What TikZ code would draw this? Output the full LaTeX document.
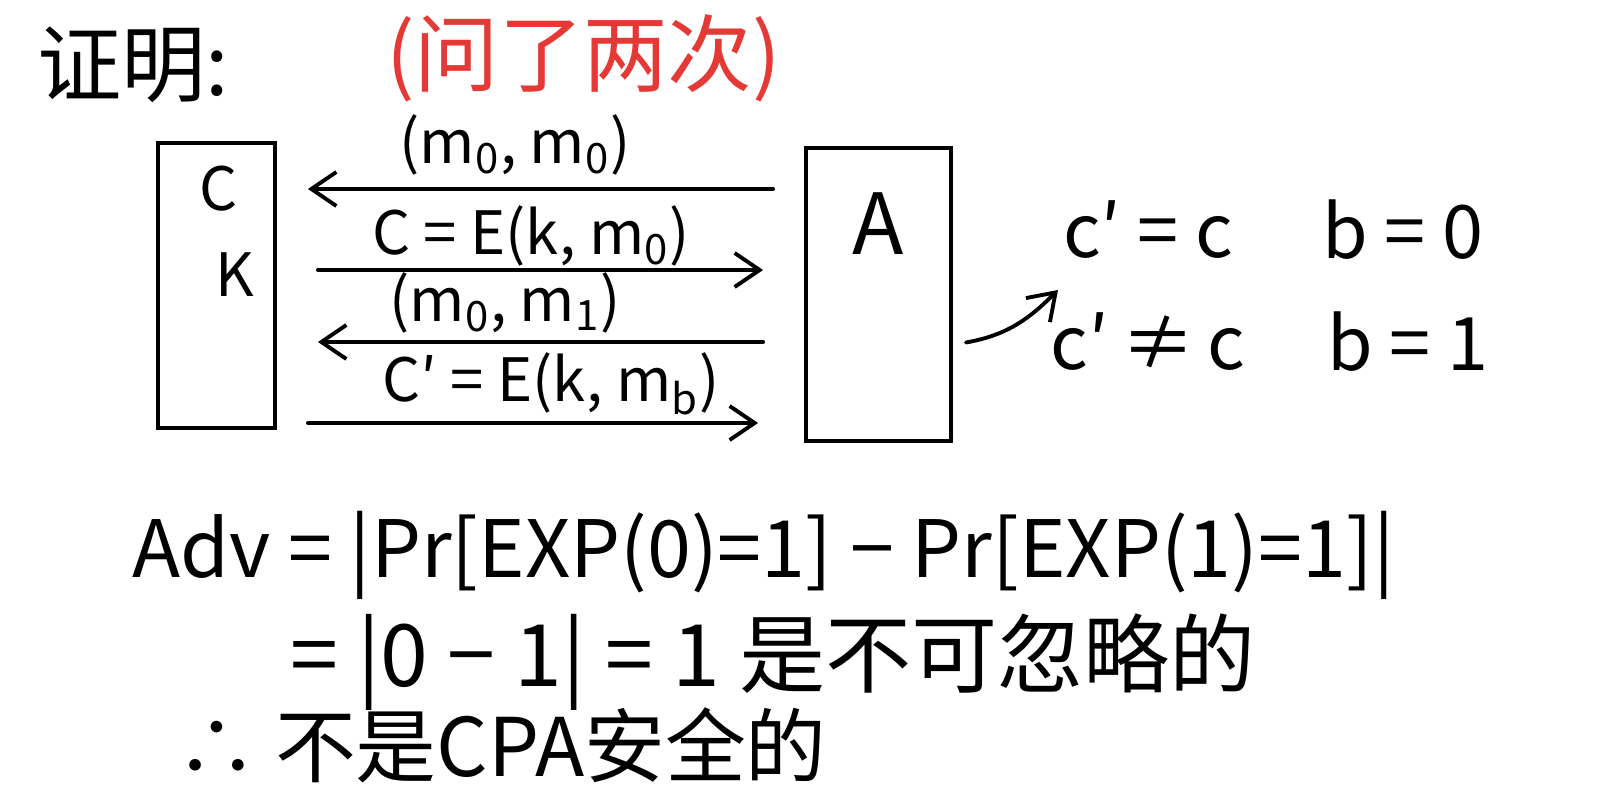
\documentclass[tikz,border=0pt]{standalone}
\usepackage{fontspec}
\setmainfont{Noto Sans CJK SC}
\usetikzlibrary{arrows.meta}
\definecolor{redpen}{RGB}{229,57,53}

\begin{document}
\begin{tikzpicture}[x=1cm,y=1cm,
    box/.style={draw,line width=1.1pt,inner sep=0pt},
    hand/.style={inner sep=1pt,font=\fontsize{17}{20}\selectfont},
    big/.style={inner sep=1pt,font=\fontsize{21}{25}\selectfont},
    huge/.style={inner sep=1pt,font=\fontsize{24}{28}\selectfont},
    arr/.style={line width=1.1pt,line cap=round,
      -{Straight Barb[length=2.5mm,width=3.4mm,line width=1.1pt]}}]
  \useasboundingbox (0,0) rectangle (16,-8);
  % header
  \node[huge,anchor=west] (proof) at (0.33,-0.65) {证明:};
  \node[huge,redpen,anchor=west] (note) at (3.82,-0.58) {(问了两次)};
  % challenger and adversary
  \node[box,minimum width=1.17cm,minimum height=2.85cm] (boxC) at (2.165,-2.855) {};
  \node[hand] (chal) at (2.19,-1.89) {C};
  \node[hand] (key) at (2.35,-2.75) {K};
  \node[box,minimum width=1.45cm,minimum height=2.93cm] (boxA) at (8.785,-2.945) {};
  \node[huge] (adv) at (8.78,-2.24) {A};
  % messages between C and A
  \node[hand] (q1) at (5.15,-1.45) {(m\textsubscript{0}, m\textsubscript{0})};
  \node[hand] (r1) at (5.31,-2.36) {C = E(k, m\textsubscript{0})};
  \node[hand] (q2) at (5.05,-3.03) {(m\textsubscript{0}, m\textsubscript{1})};
  \node[hand] (r2) at (5.51,-3.84) {C′ = E(k, m\textsubscript{b})};
  \draw[arr] ([xshift=-3.1mm]boxA.west |- 0,-1.89) -- ([xshift=3.1mm]boxC.east |- 0,-1.89);
  \draw[arr] ([xshift=4.1mm]boxC.east |- 0,-2.70) -- ([xshift=-4.1mm]boxA.west |- 0,-2.70);
  \draw[arr] ([xshift=-4.1mm]boxA.west |- 0,-3.42) -- ([xshift=4.1mm]boxC.east |- 0,-3.42);
  \draw[arr] ([xshift=3.1mm]boxC.east |- 0,-4.23) -- ([xshift=-4.6mm]boxA.west |- 0,-4.23);
  % A decides b
  \node[big] (same) at (11.48,-2.30) {c′ = c};
  \node[big] (bzero) at (14.03,-2.30) {b = 0};
  \node[big] (diff) at (11.48,-3.42) {c′\,≠\,c};
  \node[big] (bone) at (14.08,-3.42) {b = 1};
  \coordinate (pick) at (10.58,-2.90);
  \draw[arr] ([shift={(0.13,-0.48)}]boxA.east) to[out=10,in=225] (pick);
  % advantage
  \node[inner sep=1pt,font=\fontsize{22.5}{26}\selectfont,anchor=west] (advline) at (1.28,-5.55) {Adv = |Pr[EXP(0)=1] − Pr[EXP(1)=1]|};
  \node[inner sep=1pt,font=\fontsize{24.5}{28}\selectfont,anchor=west] (value) at (2.86,-6.62) {= |0 − 1| = 1 是不可忽略的};
  \node[inner sep=1pt,font=\fontsize{23}{27}\selectfont,anchor=west] (concl) at (1.72,-7.45) {∴ 不是CPA安全的};
\end{tikzpicture}
\end{document}
